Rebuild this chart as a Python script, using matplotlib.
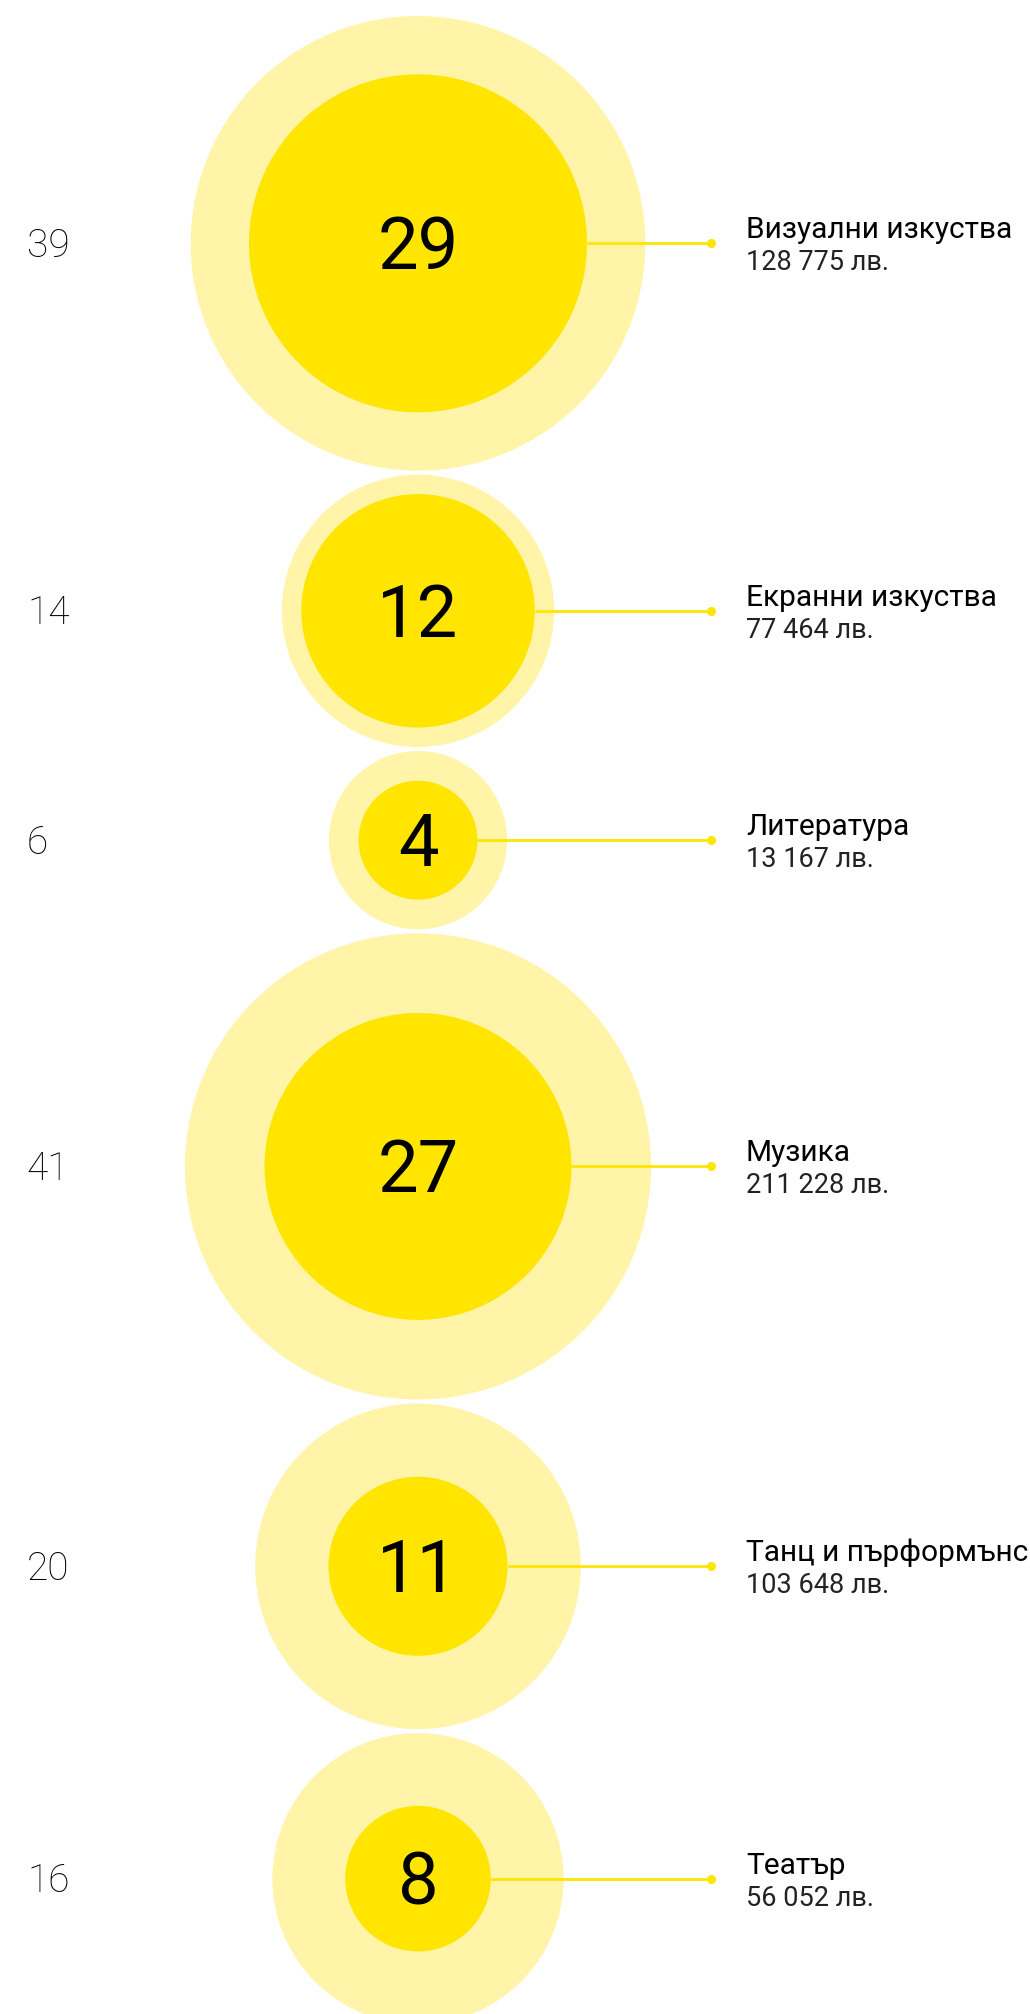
import matplotlib
matplotlib.use("Agg")
import numpy as np
import matplotlib.pyplot as plt
from matplotlib.patches import Circle

plt.rcParams['font.family'] = ['Roboto', 'DejaVu Sans']

########################## data #####################################
categories = ["Визуални изкуства", "Екранни изкуства", "Литература",
              "Музика", "Танц и пърформънс", "Театър"]
applied = [39, 14, 6, 41, 20, 16]        # outer circles
funded = [29, 12, 4, 27, 11, 8]          # inner circles
amounts = ["128 775 лв.", "77 464 лв.", "13 167 лв.",
           "211 228 лв.", "103 648 лв.", "56 052 лв."]

########################## layout #####################################
W, H = 1030, 2014
k = 36.4          # px per sqrt(count)
cx = 418
gap = 4
top = 16
x_dot = 711
light = "#FFF4A8"
yellow = "#FFE500"

r_out = k * np.sqrt(np.array(applied, dtype=float))
r_in = r_out * np.array(funded) / np.array(applied)

ys = []
for i, r in enumerate(r_out):
    if i == 0:
        ys.append(top + r)
    else:
        ys.append(ys[-1] + r_out[i - 1] + gap + r)

fig = plt.figure(figsize=(W / 100, H / 100), dpi=100)
ax = fig.add_axes([0, 0, 1, 1])
ax.set_xlim(0, W)
ax.set_ylim(H, 0)
ax.set_aspect("equal")
ax.axis("off")

for i, cat in enumerate(categories):
    yc = ys[i]
    ax.add_patch(Circle((cx, yc), r_out[i], color=light, lw=0, zorder=1))
    ax.add_patch(Circle((cx, yc), r_in[i], color=yellow, lw=0, zorder=2))
    ax.plot([cx + r_in[i], x_dot], [yc, yc], color=yellow, lw=2, zorder=1.5,
            solid_capstyle="butt")
    ax.plot([x_dot], [yc], "o", color=yellow, ms=6.5, mew=0, zorder=3)
    ax.text(cx, yc + 26, str(funded[i]), ha="center", va="baseline",
            fontsize=52, fontweight="normal", color="#000000", zorder=4)
    ax.text(27, yc + 13.5, str(applied[i]), ha="left", va="baseline",
            fontsize=28, fontweight="light", color="#000000")
    ax.text(746, yc - 5, cat, ha="left", va="baseline",
            fontsize=21.5, fontweight="normal", color="#000000")
    ax.text(746, yc + 27, amounts[i], ha="left", va="baseline",
            fontsize=19.5, fontweight="normal", color="#222222")

fig.savefig("out.png", dpi=100, facecolor="white")
